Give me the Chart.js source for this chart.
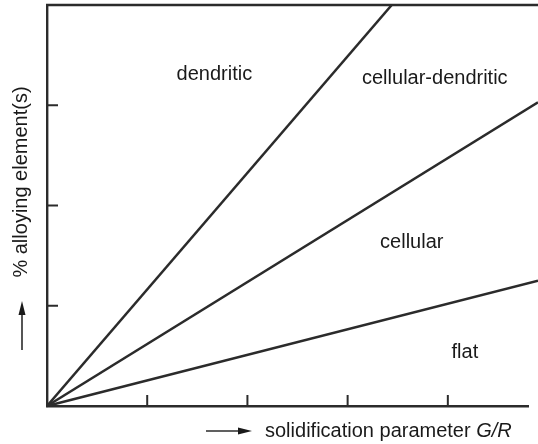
<!DOCTYPE html>
<html lang="en">
<head>
<meta charset="utf-8">
<title>Solidification morphology</title>
<script src="https://cdn.jsdelivr.net/npm/chart.js@4.4.1/dist/chart.umd.min.js"></script>
<style>
  html, body { margin: 0; padding: 0; background: #fff; }
  #wrap { width: 538px; height: 444px; }
</style>
</head>
<body>
<div id="wrap"><canvas id="chart" width="538" height="444"></canvas></div>
<script>
// boundary lines, all starting at the origin (G/R units vs % alloying)
var boundaryNames = ["dendritic / cellular-dendritic", "cellular-dendritic / cellular", "cellular / flat"];
var boundaryEndX = [3.44, 4.9, 4.9];
var boundaryEndY = [4.0, 3.03, 1.25];

// morphology regions
var regionNames = ["dendritic", "cellular-dendritic", "cellular", "flat"];

// tick marks only, no numbers
var xTicks = [1, 2, 3, 4];
var yTicks = [1, 2, 3];

var ink = '#2b2b2b';
var font = '"Liberation Sans", Arial, sans-serif';

var datasets = boundaryNames.map(function(name, i) {
    return {
        label: name,
        data: [{ x: 0, y: 0 }, { x: boundaryEndX[i], y: boundaryEndY[i] }],
        borderColor: ink,
        borderWidth: 2.6,
        pointRadius: 0,
        clip: false,
        fill: false
    };
});

var decorations = {
    id: 'decorations',
    afterDatasetsDraw: function(chart) {
        var ctx = chart.ctx;
        var xs = chart.scales.x, ys = chart.scales.y;
        var area = chart.chartArea;
        ctx.save();
        ctx.strokeStyle = ink;
        ctx.fillStyle = '#1a1a1a';
        ctx.lineWidth = 2.4;

        // frame: top line runs to the edge
        ctx.beginPath();
        ctx.moveTo(area.left - 1, area.top);
        ctx.lineTo(chart.width, area.top);
        ctx.stroke();

        // inward tick marks
        ctx.lineWidth = 2;
        xTicks.forEach(function(v) {
            var px = xs.getPixelForValue(v);
            ctx.beginPath();
            ctx.moveTo(px, area.bottom);
            ctx.lineTo(px, area.bottom - 11);
            ctx.stroke();
        });
        yTicks.forEach(function(v) {
            var py = ys.getPixelForValue(v);
            ctx.beginPath();
            ctx.moveTo(area.left, py);
            ctx.lineTo(area.left + 11, py);
            ctx.stroke();
        });

        // region labels
        var spots = [[1.67, 3.31], [3.87, 3.27], [3.64, 1.63], [4.17, 0.53]];
        ctx.font = '20px ' + font;
        ctx.textAlign = 'center';
        ctx.textBaseline = 'middle';
        regionNames.forEach(function(name, i) {
            ctx.fillText(name, xs.getPixelForValue(spots[i][0]), ys.getPixelForValue(spots[i][1]));
        });

        // x axis title with arrow
        var ty = area.bottom + 25;
        ctx.lineWidth = 1.6;
        ctx.beginPath();
        ctx.moveTo(206, ty);
        ctx.lineTo(242, ty);
        ctx.stroke();
        ctx.beginPath();
        ctx.moveTo(252, ty);
        ctx.lineTo(238, ty - 3.5);
        ctx.lineTo(238, ty + 3.5);
        ctx.closePath();
        ctx.fill();
        ctx.textAlign = 'left';
        ctx.font = '20px ' + font;
        var part = 'solidification parameter ';
        var x0 = 265;
        ctx.fillText(part, x0, ty);
        var w = ctx.measureText(part).width;
        ctx.font = 'italic 20px ' + font;
        ctx.fillText('G/R', x0 + w, ty);

        // y axis title with arrow
        var tx = 21;
        ctx.lineWidth = 1.6;
        ctx.beginPath();
        ctx.moveTo(tx + 1, 350);
        ctx.lineTo(tx + 1, 312);
        ctx.stroke();
        ctx.beginPath();
        ctx.moveTo(tx + 1, 301);
        ctx.lineTo(tx - 2.5, 315);
        ctx.lineTo(tx + 4.5, 315);
        ctx.closePath();
        ctx.fill();
        ctx.translate(tx, 182);
        ctx.rotate(-Math.PI / 2);
        ctx.textAlign = 'center';
        ctx.font = '20px ' + font;
        ctx.fillText('% alloying element(s)', 0, 0);
        ctx.restore();
    }
};

new Chart(document.getElementById('chart'), {
    type: 'scatter',
    data: { datasets: datasets },
    options: {
        responsive: false,
        animation: false,
        showLine: true,
        layout: { padding: { left: 47, top: 5, right: 10, bottom: 38 } },
        plugins: { legend: { display: false }, tooltip: { enabled: false } },
        scales: {
            x: {
                type: 'linear', min: 0, max: 4.8,
                grid: { display: false, drawTicks: false },
                border: { display: true, color: ink, width: 2.4 },
                ticks: { display: false }
            },
            y: {
                type: 'linear', min: 0, max: 4,
                grid: { display: false, drawTicks: false },
                border: { display: true, color: ink, width: 2.4 },
                ticks: { display: false }
            }
        }
    },
    plugins: [decorations]
});
</script>
</body>
</html>
